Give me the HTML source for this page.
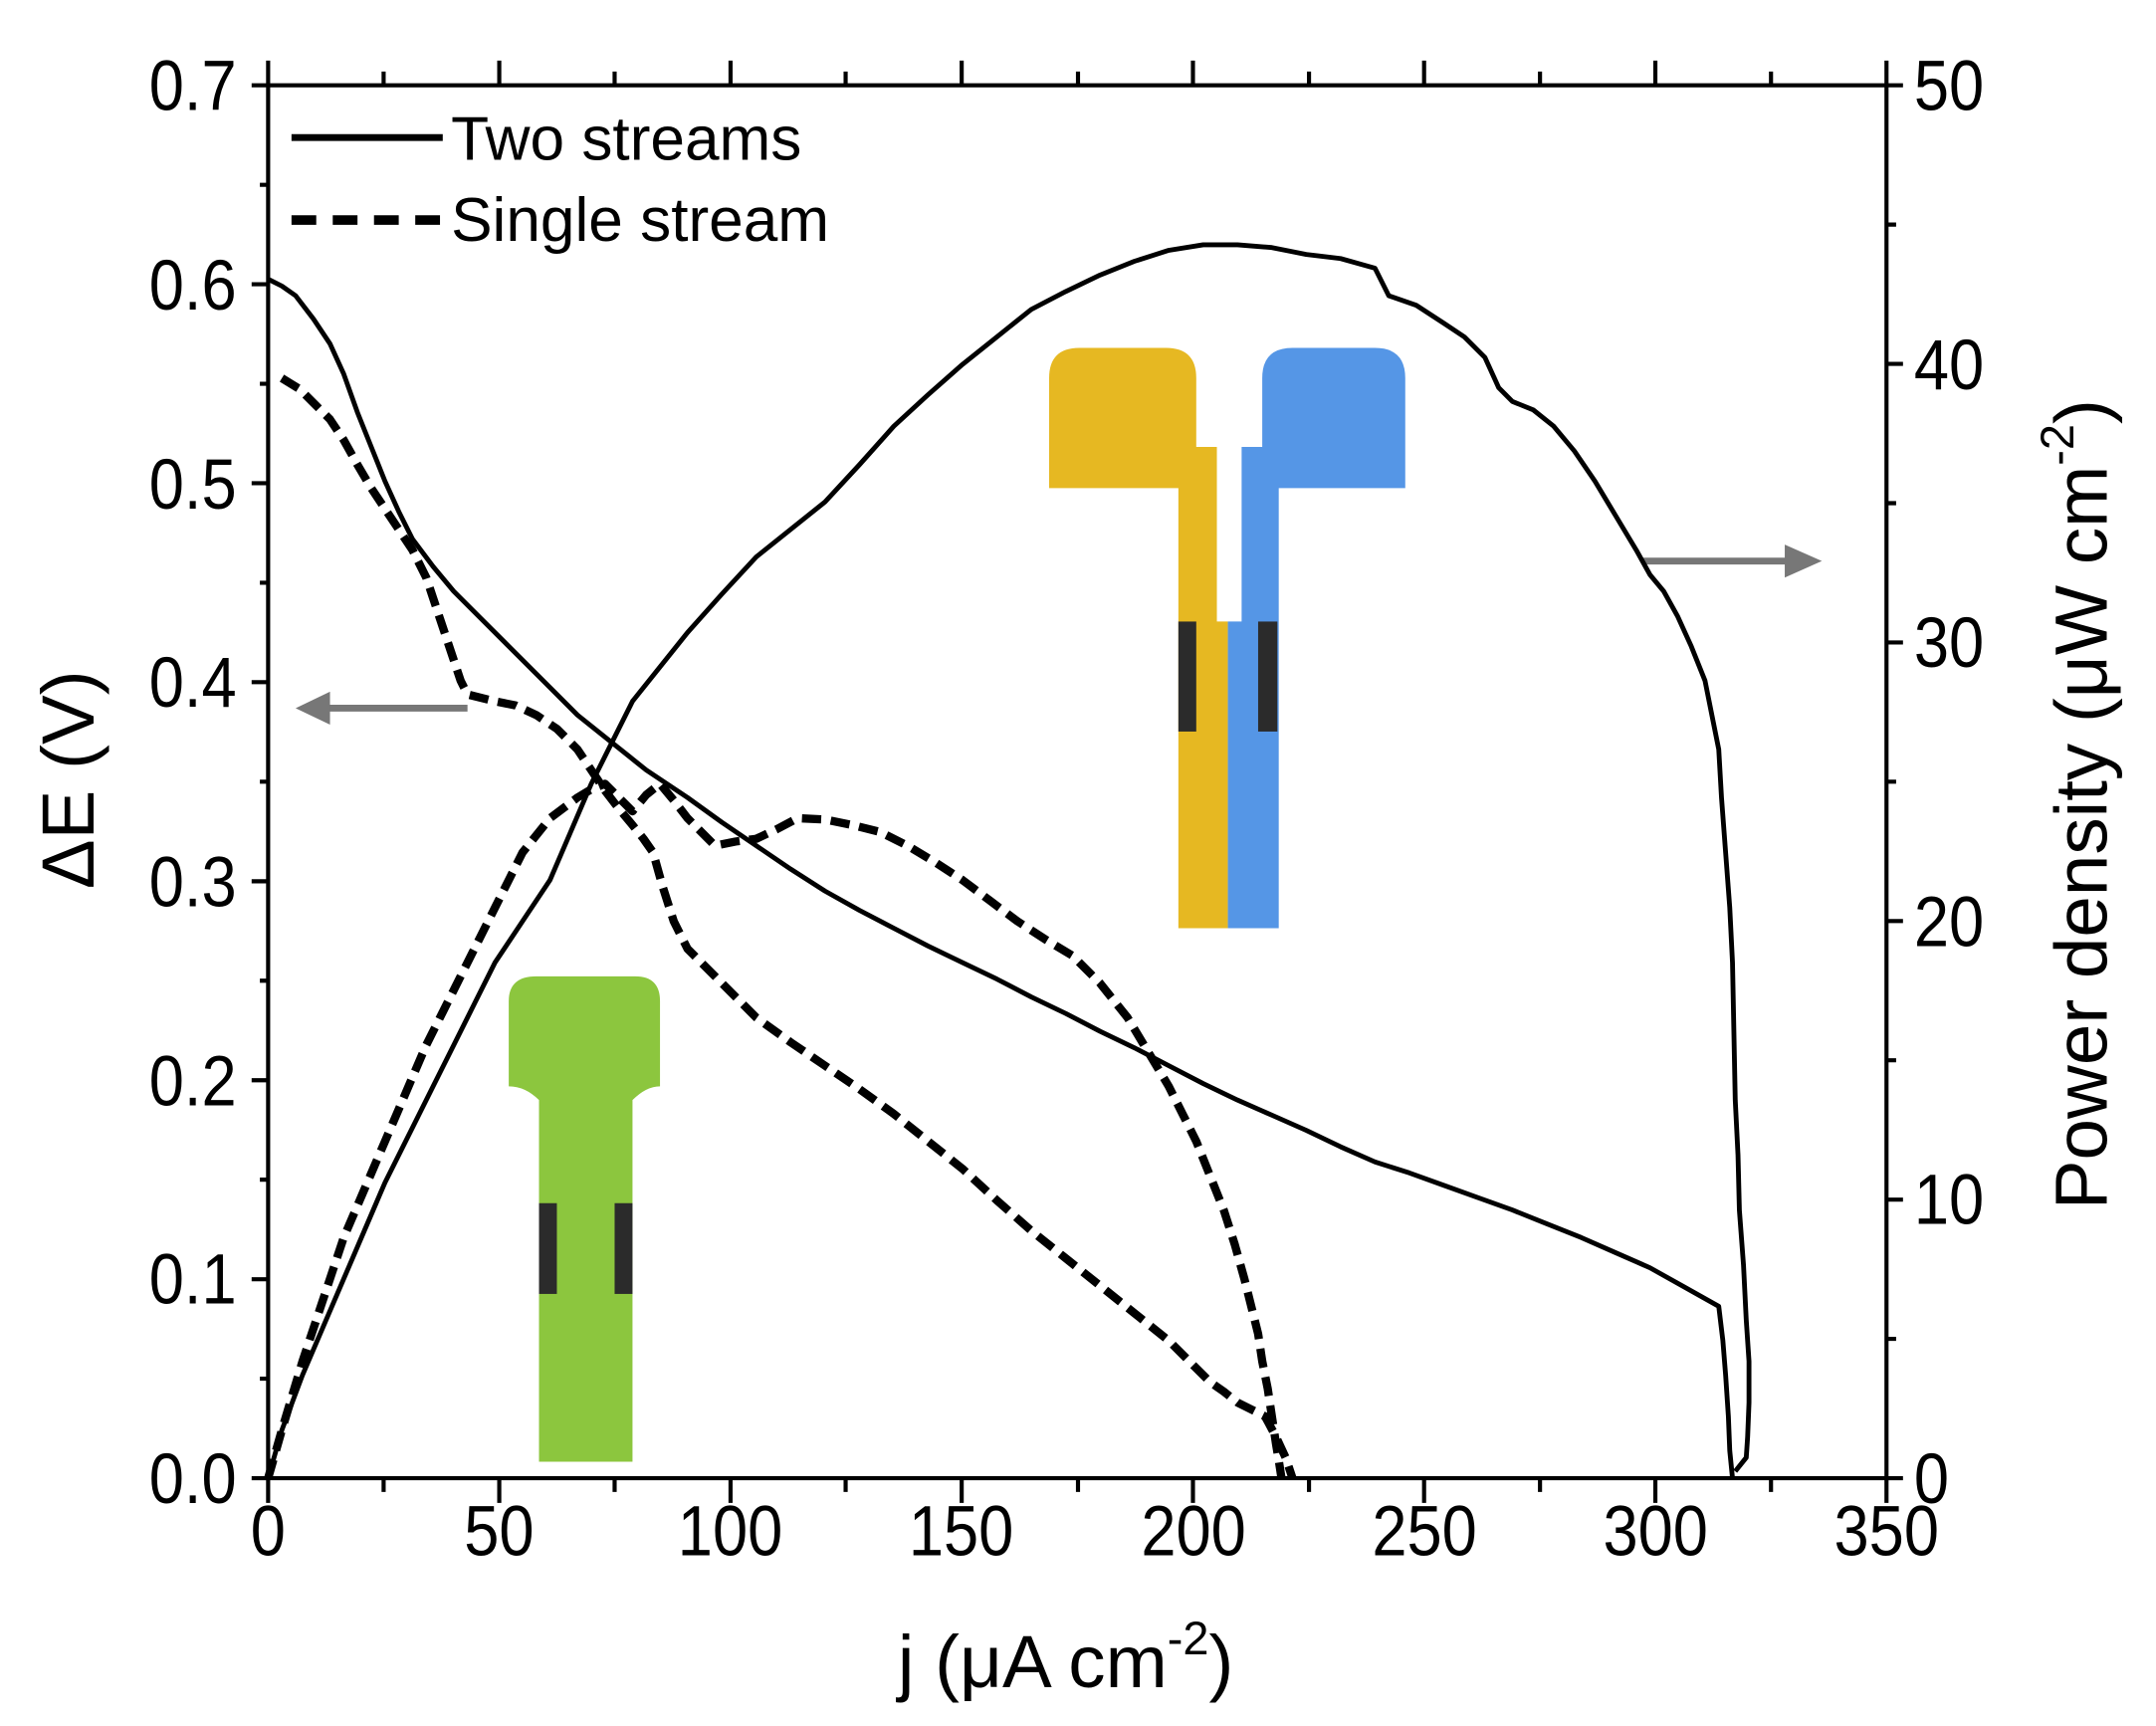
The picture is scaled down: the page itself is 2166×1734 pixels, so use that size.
<!DOCTYPE html>
<html><head><meta charset="utf-8"><style>html,body{margin:0;padding:0;background:#fff}svg{display:block}</style></head>
<body>
<svg width="2166" height="1734" viewBox="0 0 1568 1255.2" xmlns="http://www.w3.org/2000/svg" font-family="Liberation Sans, Arial, sans-serif">
<rect width="1568" height="1256" fill="#fff"/>
<g>
<path d="M370,790 L370,728 Q370,710 390,710 L462,710 Q480,710 480,728 L480,790 Q470,790 460,800 L460,1063 L392,1063 L392,800 Q382,790 370,790Z" fill="#8cc63e"/>
<rect x="392" y="875" width="13" height="66" fill="#2b2b2b"/>
<rect x="447" y="875" width="13" height="66" fill="#2b2b2b"/>
<path d="M763,355 L763,275 Q763,253 785,253 L848,253 Q870,253 870,275 L870,325 L885,325 L885,452 L893,452 L893,675 L857,675 L857,355Z" fill="#e6b822"/>
<path d="M1022,355 L1022,275 Q1022,253 1000,253 L940,253 Q918,253 918,275 L918,325 L903,325 L903,452 L893,452 L893,675 L930,675 L930,355Z" fill="#5596e6"/>
<rect x="857" y="452" width="13" height="80" fill="#2b2b2b"/>
<rect x="915" y="452" width="14" height="80" fill="#2b2b2b"/>
</g>
<g stroke="#000" stroke-width="3" fill="none">
<rect x="195" y="62" width="1177" height="1013"/>
<path d="M195,1075v18 M363.1,1075v18 M531.3,1075v18 M699.4,1075v18 M867.6,1075v18 M1035.7,1075v18 M1203.9,1075v18 M1372,1075v18
M279,1075v10 M447,1075v10 M615,1075v10 M784,1075v10 M952,1075v10 M1120,1075v10 M1288,1075v10
M195,62v-18 M363.1,62v-18 M531.3,62v-18 M699.4,62v-18 M867.6,62v-18 M1035.7,62v-18 M1203.9,62v-18 M1372,62v-18
M279,62v-10 M447,62v-10 M615,62v-10 M784,62v-10 M952,62v-10 M1120,62v-10 M1288,62v-10
M195,1075h-12 M195,930.3h-12 M195,785.6h-12 M195,640.9h-12 M195,496.1h-12 M195,351.4h-12 M195,206.7h-12 M195,62h-12
M195,1002.6h-6 M195,857.9h-6 M195,713.2h-6 M195,568.5h-6 M195,423.8h-6 M195,279.1h-6 M195,134.4h-6
M1372,1075h12 M1372,872.4h12 M1372,669.8h12 M1372,467.2h12 M1372,264.6h12 M1372,62h12
M1372,973.7h7 M1372,771.1h7 M1372,568.5h7 M1372,365.9h7 M1372,163.3h7"/>
</g>
<g font-size="52" fill="#000">
<g text-anchor="middle">
<text transform="translate(195,1131) scale(0.88,1)">0</text>
<text transform="translate(363,1131) scale(0.88,1)">50</text>
<text transform="translate(531,1131) scale(0.88,1)">100</text>
<text transform="translate(699,1131) scale(0.88,1)">150</text>
<text transform="translate(868,1131) scale(0.88,1)">200</text>
<text transform="translate(1036,1131) scale(0.88,1)">250</text>
<text transform="translate(1204,1131) scale(0.88,1)">300</text>
<text transform="translate(1372,1131) scale(0.88,1)">350</text>
</g>
<g text-anchor="end">
<text transform="translate(172,1093) scale(0.88,1)">0.0</text>
<text transform="translate(172,948) scale(0.88,1)">0.1</text>
<text transform="translate(172,804) scale(0.88,1)">0.2</text>
<text transform="translate(172,659) scale(0.88,1)">0.3</text>
<text transform="translate(172,514) scale(0.88,1)">0.4</text>
<text transform="translate(172,370) scale(0.88,1)">0.5</text>
<text transform="translate(172,225) scale(0.88,1)">0.6</text>
<text transform="translate(172,80) scale(0.88,1)">0.7</text>
</g>
<g text-anchor="start">
<text transform="translate(1392,1093) scale(0.88,1)">0</text>
<text transform="translate(1392,890) scale(0.88,1)">10</text>
<text transform="translate(1392,688) scale(0.88,1)">20</text>
<text transform="translate(1392,485) scale(0.88,1)">30</text>
<text transform="translate(1392,283) scale(0.88,1)">40</text>
<text transform="translate(1392,80) scale(0.88,1)">50</text>
</g>
<text transform="translate(775,1227)" font-size="54" text-anchor="middle">j (μA cm<tspan font-size="34" dy="-24">-2</tspan><tspan dy="24">)</tspan></text>
<text transform="translate(68,567) rotate(-90)" font-size="54" text-anchor="middle">ΔE (V)</text>
<text transform="translate(1532,585) rotate(-90)" font-size="54" text-anchor="middle">Power density (μW cm<tspan font-size="34" dy="-24">-2</tspan><tspan dy="24">)</tspan></text>
</g>
<path d="M212,100 H322" stroke="#000" stroke-width="5"/>
<path d="M212,160 H322" stroke="#000" stroke-width="7" stroke-dasharray="18,12"/>
<g font-size="45"><text x="328" y="116">Two streams</text>
<text x="328" y="175">Single stream</text></g>
<g fill="#777" stroke="#777" stroke-width="5">
<path d="M340,515 H230" /><path d="M215,515 L240,503 L240,527Z" stroke="none"/>
<path d="M1195,408 H1305" /><path d="M1325,408 L1298,396 L1298,420Z" stroke="none"/>
</g>
<g fill="none" stroke="#000" stroke-linejoin="round">
<polyline stroke-width="3.5" points="195,203 205,208 215,215 228,232 240,250 250,272 260,300 270,325 280,350 290,372 300,392 315,412 330,430 350,450 370,470 395,495 420,520 445,540 470,560 500,580 525,598 550,615 575,632 600,648 625,662 650,675 675,688 700,700 725,712 750,725 775,737 800,750 825,762 850,775 875,788 900,800 925,811 950,822 975,834 1000,845 1025,853 1050,862 1075,871 1100,880 1125,890 1150,900 1175,911 1200,922 1225,936 1250,950 1253,975 1255,1000 1257,1030 1258,1055 1260,1075"/>
<polyline stroke-width="3.5" points="195,1075 205,1040 220,1000 235,965 250,930 265,895 280,860 300,820 315,790 330,760 345,730 360,700 380,670 400,640 415,605 430,570 445,540 460,510 480,485 500,460 525,432 550,405 575,385 600,365 625,338 650,310 675,287 700,265 725,245 750,225 775,212 800,200 825,190 850,182 875,178 900,178 925,180 950,185 975,188 1000,195 1010,215 1030,222 1050,235 1065,245 1080,260 1090,282 1100,292 1115,298 1130,310 1145,328 1160,350 1175,375 1190,400 1200,418 1210,430 1220,448 1230,470 1240,495 1245,520 1250,545 1252,580 1255,620 1258,660 1260,700 1261,750 1262,800 1264,840 1265,880 1268,920 1270,960 1272,990 1272,1020 1271,1045 1270,1060 1262,1070"/>
<polyline stroke-width="6" stroke-dasharray="14,7" points="205,275 218,283 230,295 240,305 250,320 260,338 270,355 280,370 290,385 300,400 310,420 315,435 320,450 325,465 330,480 335,495 340,505 360,510 375,513 390,520 405,530 420,545 430,560 440,575 450,588 460,600 468,610 475,620 482,645 490,670 500,690 510,700 520,710 535,725 550,740 575,758 600,775 625,792 650,810 675,830 700,850 725,873 750,895 775,915 800,935 825,955 850,975 865,990 880,1005 890,1012 900,1020 910,1025 920,1030 928,1045 935,1060 940,1075"/>
<polyline stroke-width="6" stroke-dasharray="14,7" points="195,1075 205,1040 220,990 235,945 250,900 265,865 280,830 295,795 310,760 325,730 340,700 360,660 380,620 400,595 420,580 430,574 440,570 450,580 460,590 470,578 480,570 490,582 500,595 510,605 520,615 535,612 550,610 565,603 580,595 600,596 620,600 640,605 660,615 680,627 700,640 720,655 740,670 760,683 780,695 800,715 820,740 835,765 850,790 860,810 870,830 880,855 890,880 898,905 905,930 910,950 915,970 918,990 922,1010 925,1030 928,1050 930,1062 932,1075"/>
</g>
</svg>
</body></html>
